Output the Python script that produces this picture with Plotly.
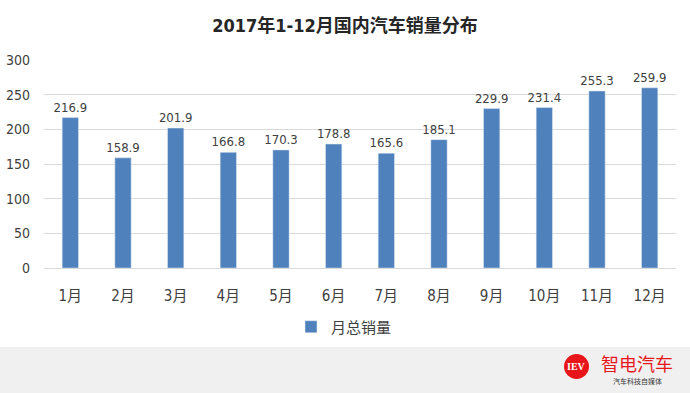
import plotly.graph_objects as go

months = ["1月", "2月", "3月", "4月", "5月", "6月", "7月", "8月", "9月", "10月", "11月", "12月"]
sales = [216.9, 158.9, 201.9, 166.8, 170.3, 178.8, 165.6, 185.1, 229.9, 231.4, 255.3, 259.9]
y_ticks = [0, 50, 100, 150, 200, 250, 300]

num_font = "DejaVu Sans Condensed, Liberation Sans Narrow, Noto Sans CJK SC"

fig = go.Figure()
fig.add_trace(go.Bar(
    x=months, y=sales, name="月总销量",
    marker=dict(color="#4f81bd"),
    text=[f"{v:.1f}" for v in sales], textposition="outside",
    constraintext="none",
    textfont=dict(size=13, color="#404040", family=num_font),
    cliponaxis=False,
))

fig.update_layout(
    width=690, height=393,
    margin=dict(l=44, r=14, t=60, b=125),
    paper_bgcolor="white", plot_bgcolor="white",
    bargap=0.69,
    title=dict(text="<b>2017年1-12月国内汽车销量分布</b>", x=0.5, xanchor="center", y=0.935, yanchor="middle",
               font=dict(size=18, color="#262626", family=num_font)),
    xaxis=dict(showgrid=False, showline=True, linecolor="#d9d9d9", ticks="", automargin=False,
               ticklabelstandoff=14,
               tickfont=dict(size=15, color="#404040", family=num_font)),
    yaxis=dict(range=[0, 300], tickvals=y_ticks, showgrid=True, gridcolor="#d9d9d9",
               zeroline=False, ticks="", ticklabelstandoff=13, automargin=False,
               tickfont=dict(size=14, color="#404040", family=num_font)),
    showlegend=True,
    legend=dict(orientation="h", x=0.5 - 16 / 632, xanchor="center", y=-59/208, yanchor="middle",
                itemwidth=30,
                font=dict(size=15, color="#404040", family="Noto Sans CJK SC")),
    shapes=[
        dict(type="rect", xref="paper", yref="paper", x0=-0.1, x1=1.1, y0=-125/208, y1=-79/208,
             fillcolor="#f0f0f0", line=dict(width=0), layer="below"),
    ],
)

def px(x):
    return (x - 44) / 632
def py(y):
    return (268 - y) / 208

fig.add_shape(type="circle", xref="paper", yref="paper", layer="below",
              x0=px(564), x1=px(589), y0=py(379), y1=py(354),
              fillcolor="#e8161b", line=dict(width=0))
fig.add_annotation(xref="paper", yref="paper", x=px(576.5), y=py(366.5), text="<b>IEV</b>",
                   xanchor="center", yanchor="middle",
                   showarrow=False, font=dict(size=10, color="white", family="Liberation Serif"))
fig.add_annotation(xref="paper", yref="paper", x=px(637), y=py(363), text="智电汽车",
                   xanchor="center", yanchor="middle",
                   showarrow=False, font=dict(size=18, color="#e8161b", family="Noto Sans CJK SC"))
fig.add_annotation(xref="paper", yref="paper", x=px(637), y=py(381), text="汽车科技自媒体",
                   xanchor="center", yanchor="middle",
                   showarrow=False, font=dict(size=7, color="#333333", family="Noto Sans CJK SC"))

fig.write_html("out.html", config={"displayModeBar": False},
               post_script="document.body.style.margin='0';")
